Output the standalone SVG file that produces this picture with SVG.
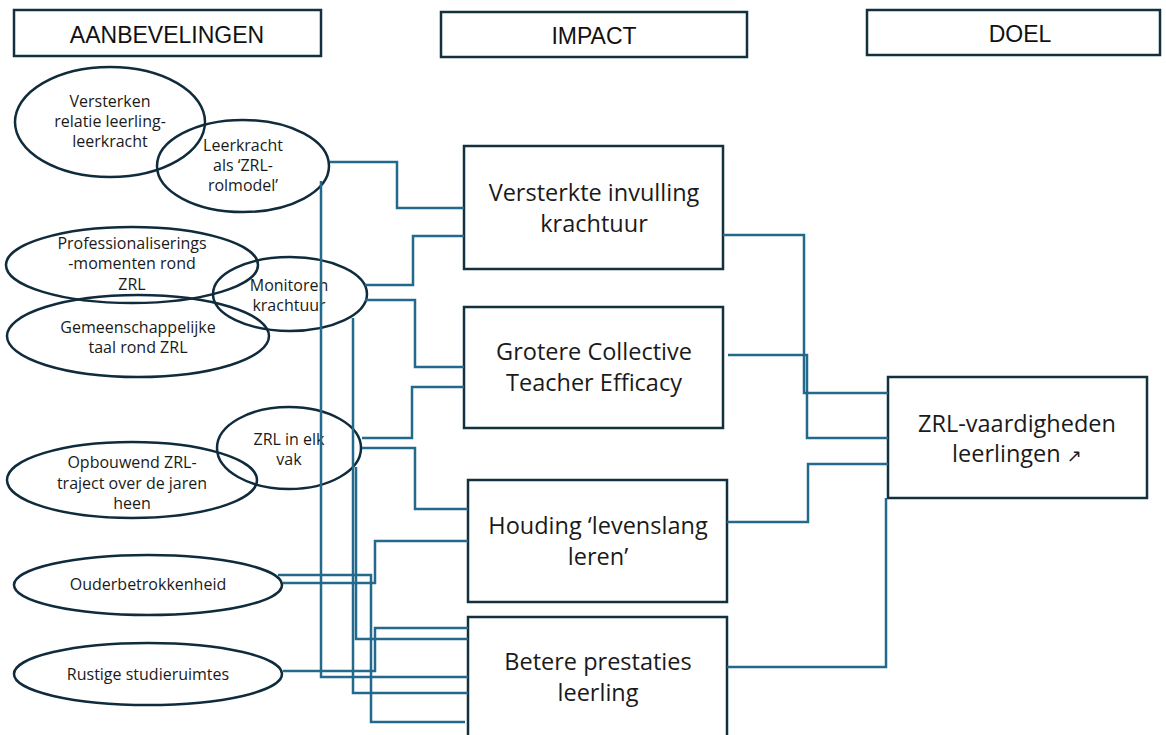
<svg xmlns="http://www.w3.org/2000/svg" width="1166" height="735" viewBox="0 0 1166 735">
<style>
.hdr{fill:#fff;stroke:#13303f;stroke-width:2.5}
.ht{font-family:"Liberation Sans",Arial,sans-serif;font-size:23px;fill:#111;text-anchor:middle}
.el{fill:none;stroke:#0f2b3c;stroke-width:2.5}
.et{font-family:"Open Sans","Noto Sans",sans-serif;font-size:16px;fill:#1a1a1a;text-anchor:middle}
.bx{fill:#fff;stroke:#13303f;stroke-width:2.5}
.bt{font-family:"Open Sans","Noto Sans",sans-serif;font-size:23.5px;fill:#1a1a1a;text-anchor:middle}
.cn{fill:none;stroke:#22698b;stroke-width:2.5}
</style>
<rect width="1166" height="735" fill="#fff"/>
<g id="headers">
<g id="h-aanbevelingen"><rect class="hdr" x="14" y="10" width="307" height="46"/><text class="ht" x="167" y="43">AANBEVELINGEN</text></g>
<g id="h-impact"><rect class="hdr" x="441" y="12" width="306" height="45"/><text class="ht" x="594" y="44">IMPACT</text></g>
<g id="h-doel"><rect class="hdr" x="867" y="10" width="293" height="45"/><text class="ht" x="1020" y="42">DOEL</text></g>
</g>
<g id="n-versterken"><ellipse class="el" cx="110" cy="122" rx="95" ry="55"/><text class="et"><tspan x="110" y="107">Versterken</tspan><tspan x="110" y="127">relatie leerling-</tspan><tspan x="110" y="147">leerkracht</tspan></text></g>
<g id="n-rolmodel"><ellipse class="el" cx="243" cy="166" rx="86" ry="46"/><text class="et"><tspan x="243" y="151">Leerkracht</tspan><tspan x="243" y="171">als ‘ZRL-</tspan><tspan x="243" y="191">rolmodel’</tspan></text></g>
<g id="n-prof"><ellipse class="el" cx="132" cy="265" rx="126" ry="38"/><text class="et"><tspan x="132" y="249">Professionaliserings</tspan><tspan x="132" y="269">-momenten rond</tspan><tspan x="132" y="290">ZRL</tspan></text></g>
<g id="n-taal"><ellipse class="el" cx="138" cy="336" rx="131" ry="41"/><text class="et"><tspan x="138" y="333">Gemeenschappelijke</tspan><tspan x="138" y="353">taal rond ZRL</tspan></text></g>
<g id="n-monitoren"><ellipse class="el" cx="290" cy="294" rx="77" ry="37"/><text class="et"><tspan x="289" y="291">Monitoren</tspan><tspan x="289" y="311">krachtuur</tspan></text></g>
<g id="n-vak"><ellipse class="el" cx="289" cy="448" rx="72" ry="41"/><text class="et"><tspan x="289" y="445">ZRL in elk</tspan><tspan x="289" y="465">vak</tspan></text></g>
<g id="n-traject"><ellipse class="el" cx="132" cy="480" rx="125" ry="38"/><text class="et"><tspan x="132" y="468">Opbouwend ZRL-</tspan><tspan x="132" y="489">traject over de jaren</tspan><tspan x="132" y="509">heen</tspan></text></g>
<g id="n-ouder"><ellipse class="el" cx="148" cy="585" rx="134" ry="30"/><text class="et" x="148" y="590">Ouderbetrokkenheid</text></g>
<g id="n-rustig"><ellipse class="el" cx="148" cy="674" rx="134" ry="31"/><text class="et" x="148" y="680">Rustige studieruimtes</text></g>
<g id="b-krachtuur"><rect class="bx" x="464" y="146" width="259" height="123"/><text class="bt"><tspan x="594" y="201">Versterkte invulling</tspan><tspan x="594" y="232">krachtuur</tspan></text></g>
<g id="b-cte"><rect class="bx" x="464" y="307" width="259" height="121"/><text class="bt"><tspan x="594" y="360">Grotere Collective</tspan><tspan x="594" y="391">Teacher Efficacy</tspan></text></g>
<g id="b-houding"><rect class="bx" x="468" y="480" width="259" height="122"/><text class="bt"><tspan x="598" y="534">Houding ‘levenslang</tspan><tspan x="598" y="565">leren’</tspan></text></g>
<g id="b-prestaties"><rect class="bx" x="468" y="617" width="259" height="130"/><text class="bt"><tspan x="598" y="670">Betere prestaties</tspan><tspan x="598" y="701">leerling</tspan></text></g>
<g id="b-doel"><rect class="bx" x="888" y="377" width="259" height="121"/><text class="bt"><tspan x="1017" y="432">ZRL-vaardigheden</tspan><tspan x="1017" y="462">leerlingen <tspan font-size="18px" font-family="DejaVu Sans,sans-serif">↗</tspan></tspan></text></g>
<g id="connectors">
<path class="cn" d="M330,162 H397 V208 H464"/>
<path class="cn" d="M365,285 H413 V236 H464"/>
<path class="cn" d="M365,300 H415 V367 H464"/>
<path class="cn" d="M362,438 H412 V387 H464"/>
<path class="cn" d="M362,448 H415 V509 H468"/>
<path class="cn" d="M321,181 V677 H468"/>
<path class="cn" d="M353,318 V693 H468"/>
<path class="cn" d="M356,467 V639 H468"/>
<path class="cn" d="M283,583 H375 V541 H468"/>
<path class="cn" d="M278,575 H371 V722 H465"/>
<path class="cn" d="M283,671 H375 V628 H468"/>
<path class="cn" d="M723,235 H804 V393 H888"/>
<path class="cn" d="M728,355 H807 V438 H888"/>
<path class="cn" d="M727,522 H808 V464 H888"/>
<path class="cn" d="M727,667 H886 V498"/>
</g>
</svg>
